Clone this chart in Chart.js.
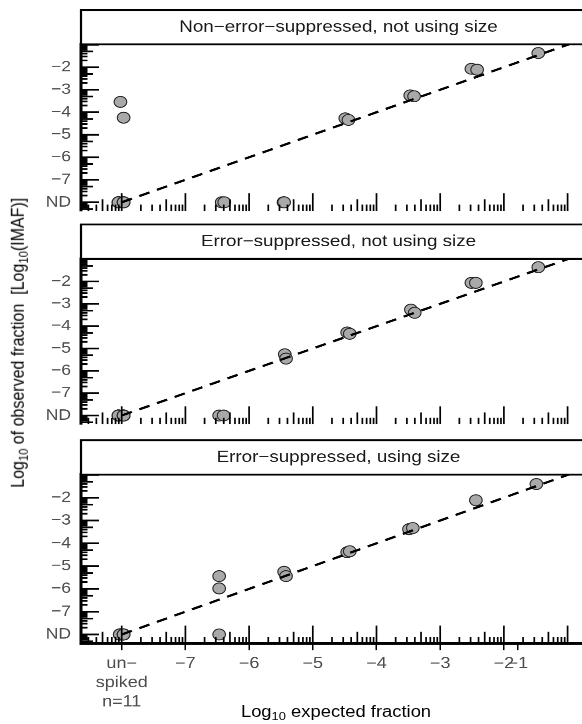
<!DOCTYPE html>
<html><head><meta charset="utf-8">
<script src="https://cdn.jsdelivr.net/npm/chart.js@4.4.1/dist/chart.umd.min.js"></script>
<style>
html,body{margin:0;padding:0;background:#fff;}
#frame{position:relative;width:582px;height:724px;overflow:hidden;background:#fff;}
#inner{position:absolute;left:0;top:0;width:612px;height:832.2px;transform:scaleY(0.87);transform-origin:0 0;}
canvas{position:absolute;left:0;}
.ttl{position:absolute;font-family:"Liberation Sans",Arial,Helvetica,sans-serif;font-size:18.4px;color:#000;white-space:nowrap;line-height:1;}
.ttl sub{font-size:0.7em;vertical-align:-0.3em;line-height:0;}
#ytitle{left:18px;top:394px;transform:translate(-50%,-50%) rotate(-90deg);}
#xtitle{left:336px;top:818px;transform:translate(-50%,-50%);}
</style></head>
<body>
<div id="frame"><div id="inner">
<canvas id="c1" width="612" height="250" style="top:0px"></canvas>
<canvas id="c2" width="612" height="245" style="top:250px"></canvas>
<canvas id="c3" width="612" height="337" style="top:495px"></canvas>
<div class="ttl" id="ytitle">Log<sub>10</sub> of observed fraction&nbsp;&nbsp;[Log<sub>10</sub>(IMAF)]</div>
<div class="ttl" id="xtitle">Log<sub>10</sub> expected fraction</div>
</div></div>
<script>
// ---- tick breaks and labels ----
const xBreaks = [-8, -7, -6, -5, -4, -3, -2, -1.78];
const xTickLabels = [["un\u2212", "spiked", "n=11"], "\u22127", "\u22126", "\u22125", "\u22124", "\u22123", "\u22122", "\u22121"];
const yBreaks = [-8, -7, -6, -5, -4, -3, -2];
const yTickLabels = ["ND", "\u22127", "\u22126", "\u22125", "\u22124", "\u22123", "\u22122"];
const panelTitles = ["Non\u2212error\u2212suppressed, not using size", "Error\u2212suppressed, not using size", "Error\u2212suppressed, using size"];
const identityLine = [-8, -0.3];
const rugDecades = [-10, -9, -8, -7, -6, -5, -4, -3, -2, -1, 0];
const rugMultipliers = [1, 2, 3, 4, 5, 6, 7, 8, 9];

// ---- panel 1: Non-error-suppressed, not using size (ND = -8) ----
const p1X = [-8.05, -8.05, -8.05, -8.05, -8.05, -7.97, -7.97, -7.97, -7.97, -8.02, -7.97, -6.43, -6.39, -5.46, -5.45, -4.49, -4.44, -3.47, -3.41, -2.51, -2.42, -1.46];
const p1Y = [-8, -8, -8, -8, -8, -8, -8, -8, -8, -3.54, -4.24, -8, -8, -8, -8, -4.27, -4.34, -3.25, -3.29, -2.07, -2.11, -1.37];
// ---- panel 2: Error-suppressed, not using size ----
const p2X = [-8.05, -8.05, -8.05, -8.05, -8.05, -8.05, -7.97, -7.97, -7.97, -7.97, -7.97, -6.47, -6.40, -5.44, -5.42, -4.46, -4.42, -3.46, -3.40, -2.51, -2.44, -1.46];
const p2Y = [-8, -8, -8, -8, -8, -8, -8, -8, -8, -8, -8, -8, -8, -5.26, -5.45, -4.28, -4.34, -3.26, -3.40, -2.06, -2.06, -1.36];
// ---- panel 3: Error-suppressed, using size ----
const p3X = [-8.03, -8.03, -8.03, -8.03, -8.03, -8.03, -7.97, -7.97, -7.97, -7.97, -7.97, -6.47, -6.47, -6.47, -5.45, -5.42, -4.46, -4.42, -3.49, -3.43, -2.44, -1.49];
const p3Y = [-8, -8, -8, -8, -8, -8, -8, -8, -8, -8, -8, -5.44, -5.98, -8, -5.25, -5.44, -4.39, -4.35, -3.38, -3.33, -2.11, -1.40];

const FONT = "'Liberation Sans', Arial, Helvetica, sans-serif";
const X_MIN = -8.639, X_MAX = -0.554;
const Y_MIN = -8.39, Y_MAX = -0.985;

const stripPlugin = {
  id: 'strip',
  afterDraw(chart, args, opts) {
    const {ctx, chartArea: a} = chart;
    ctx.save();
    ctx.fillStyle = '#fff';
    ctx.fillRect(a.left, opts.top, a.right - a.left, a.top - opts.top);
    ctx.strokeStyle = '#000';
    ctx.lineWidth = 2.2;
    ctx.strokeRect(a.left, opts.top, a.right - a.left, a.top - opts.top);
    ctx.fillStyle = '#1a1a1a';
    ctx.font = '18.8px ' + FONT;
    ctx.textAlign = 'center';
    ctx.textBaseline = 'alphabetic';
    ctx.fillText(opts.text, (a.left + a.right) / 2, (opts.top + a.top) / 2 + 5.2);
    ctx.restore();
  }
};

const rugPlugin = {
  id: 'rug',
  afterDatasetsDraw(chart) {
    const {ctx, chartArea: a, scales} = chart;
    const xs = scales.x, ys = scales.y;
    ctx.save();
    ctx.beginPath();
    ctx.rect(a.left, a.top, a.right - a.left, a.bottom - a.top);
    ctx.clip();
    ctx.strokeStyle = '#000';
    for (const d of rugDecades) {
      for (const m of rugMultipliers) {
        const v = d + Math.log10(m);
        const lx = m === 1 ? 20.5 : (m === 5 ? 13.5 : 7.5);
        const ly = m === 1 ? 18 : (m === 5 ? 12 : 6.5);
        if (v >= xs.min && v <= xs.max) {
          const px = xs.getPixelForValue(v);
          ctx.lineWidth = 1.7;
          ctx.beginPath();
          ctx.moveTo(px, a.bottom);
          ctx.lineTo(px, a.bottom - lx);
          ctx.stroke();
        }
        if (v >= ys.min && v <= ys.max) {
          const py = ys.getPixelForValue(v);
          ctx.lineWidth = 2;
          ctx.beginPath();
          ctx.moveTo(a.left, py);
          ctx.lineTo(a.left + ly, py);
          ctx.stroke();
        }
      }
    }
    ctx.restore();
  }
};

function makePanel(id, title, xs, ys, geom, showX) {
  const pts = xs.map((x, i) => ({x: x, y: ys[i]}));
  const line = identityLine.map(v => ({x: v, y: v}));
  return new Chart(document.getElementById(id), {
    type: 'scatter',
    data: {
      datasets: [
        {data: line, showLine: true, borderColor: '#000', borderWidth: 2.6, borderDash: [11, 8],
         pointRadius: 0, fill: false, order: 0},
        {data: pts, pointRadius: 6.3, pointHoverRadius: 6.3, backgroundColor: '#a9a9a9',
         borderColor: '#262626', borderWidth: 1.1, order: 1}
      ]
    },
    options: {
      responsive: false, maintainAspectRatio: false, animation: false, devicePixelRatio: 2,
      events: [],
      layout: {padding: {left: 0, right: 16, top: geom.padTop, bottom: geom.padBottom}},
      plugins: {legend: {display: false}, tooltip: {enabled: false},
                strip: {text: title, top: geom.stripTop}},
      scales: {
        x: {
          type: 'linear', position: 'bottom', min: X_MIN, max: X_MAX, display: showX,
          afterBuildTicks: s => { s.ticks = xBreaks.map(v => ({value: v})); },
          ticks: {callback: (v, i) => xTickLabels[i], autoSkip: false, maxRotation: 0, minRotation: 0,
                  color: '#4d4d4d', padding: 4.4, font: {family: FONT, size: 18, lineHeight: 1.22}},
          grid: {display: true, drawOnChartArea: false, drawTicks: true, tickLength: 8, color: '#000', lineWidth: 1.5},
          border: {display: true, color: '#000', width: 3},
          afterFit: s => { s.height = showX ? 85 : 0; s.paddingLeft = 0; s.paddingRight = 0; }
        },
        y: {
          type: 'linear', position: 'left', min: Y_MIN, max: Y_MAX,
          afterBuildTicks: s => { s.ticks = yBreaks.map(v => ({value: v})); },
          ticks: {callback: (v, i) => yTickLabels[i], autoSkip: false, color: '#4d4d4d', padding: 2,
                  font: {family: FONT, size: 17.5}},
          grid: {display: false},
          border: {display: true, color: '#000', width: 3},
          afterFit: s => { s.width = 81; s.paddingTop = 0; s.paddingBottom = 0; }
        }
      }
    },
    plugins: [stripPlugin, rugPlugin]
  });
}

makePanel('c1', panelTitles[0], p1X, p1Y, {padTop: 51, padBottom: 5, stripTop: 11.5}, false);
makePanel('c2', panelTitles[1], p2X, p2Y, {padTop: 47.5, padBottom: 3.5, stripTop: 8}, false);
makePanel('c3', panelTitles[2], p3X, p3Y, {padTop: 50.5, padBottom: 7.5, stripTop: 11}, true);
</script>
</body></html>
